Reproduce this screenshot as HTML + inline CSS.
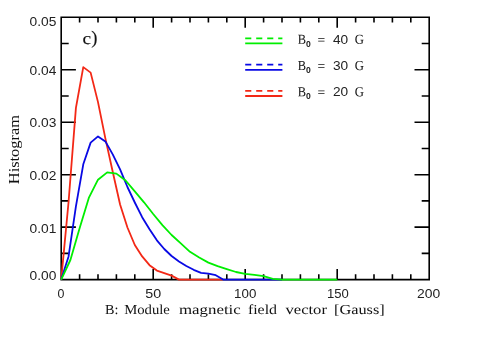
<!DOCTYPE html>
<html><head><meta charset="utf-8"><title>Histogram</title>
<style>html,body{margin:0;padding:0;background:#fff;}svg{display:block;}text{font-family:"Liberation Serif",serif;fill:#111111;}text.s{font-family:"Liberation Sans",sans-serif;fill:#222;}</style></head><body>
<svg width="491" height="350" viewBox="0 0 491 350">
<rect x="0" y="0" width="491" height="350" fill="#ffffff"/>
<path d="M61.20 17.30H429.20V279.60H61.20ZM61.20 279.60v-10.50M61.20 17.30v10.50M79.60 279.60v-5.30M79.60 17.30v5.30M98.00 279.60v-5.30M98.00 17.30v5.30M116.40 279.60v-5.30M116.40 17.30v5.30M134.80 279.60v-5.30M134.80 17.30v5.30M153.20 279.60v-10.50M153.20 17.30v10.50M171.60 279.60v-5.30M171.60 17.30v5.30M190.00 279.60v-5.30M190.00 17.30v5.30M208.40 279.60v-5.30M208.40 17.30v5.30M226.80 279.60v-5.30M226.80 17.30v5.30M245.20 279.60v-10.50M245.20 17.30v10.50M263.60 279.60v-5.30M263.60 17.30v5.30M282.00 279.60v-5.30M282.00 17.30v5.30M300.40 279.60v-5.30M300.40 17.30v5.30M318.80 279.60v-5.30M318.80 17.30v5.30M337.20 279.60v-10.50M337.20 17.30v10.50M355.60 279.60v-5.30M355.60 17.30v5.30M374.00 279.60v-5.30M374.00 17.30v5.30M392.40 279.60v-5.30M392.40 17.30v5.30M410.80 279.60v-5.30M410.80 17.30v5.30M429.20 279.60v-10.50M429.20 17.30v10.50M61.20 279.60h14.70M429.20 279.60h-14.70M61.20 253.37h7.50M429.20 253.37h-7.50M61.20 227.14h14.70M429.20 227.14h-14.70M61.20 200.91h7.50M429.20 200.91h-7.50M61.20 174.68h14.70M429.20 174.68h-14.70M61.20 148.45h7.50M429.20 148.45h-7.50M61.20 122.22h14.70M429.20 122.22h-14.70M61.20 95.99h7.50M429.20 95.99h-7.50M61.20 69.76h14.70M429.20 69.76h-14.70M61.20 43.53h7.50M429.20 43.53h-7.50M61.20 17.30h14.70M429.20 17.30h-14.70" fill="none" stroke="#000" stroke-width="1.6" stroke-linecap="butt" stroke-linejoin="miter"/>
<g fill="none" stroke-width="1.8" stroke-linejoin="round" stroke-linecap="butt">
<polyline stroke="#f32816" points="61.20,279.60 68.56,202.00 75.92,107.90 83.28,67.10 90.64,72.60 98.00,102.10 105.36,138.40 112.72,171.80 120.08,204.50 127.44,227.50 134.80,245.00 142.16,256.40 149.52,265.20 156.88,270.60 164.24,273.10 171.60,275.60 178.96,279.60 222.80,279.60"/>
<polyline stroke="#0909e4" points="61.20,279.60 68.56,256.40 75.92,206.30 83.28,164.30 90.64,142.60 98.00,136.40 105.36,141.40 112.72,154.40 120.08,169.40 127.44,187.00 134.80,202.50 142.16,217.20 149.52,229.30 156.88,240.30 164.24,249.00 171.60,256.00 178.96,261.50 186.32,266.00 193.68,269.80 201.04,272.80 208.40,273.60 215.76,275.20 223.12,279.60 282.00,279.60"/>
<polyline stroke="#00ee00" points="61.20,279.60 70.40,260.00 79.60,228.20 88.80,197.90 98.00,179.70 107.20,172.40 116.40,173.60 125.60,180.50 134.80,191.40 144.00,202.30 153.20,214.00 162.40,225.10 171.60,235.00 180.80,243.40 190.00,251.80 199.20,257.50 208.40,262.60 217.60,266.20 226.80,269.20 236.00,272.00 245.20,273.90 254.40,274.80 263.60,276.10 272.80,278.90 282.00,279.60 337.30,279.60"/>
</g>
<defs><mask id="m" maskUnits="userSpaceOnUse" x="0" y="0" width="491" height="350"><rect x="0" y="0" width="491" height="350" fill="#fff"/></mask></defs>
<g mask="url(#m)">
<text class="s" x="29.50" y="26.30" font-size="12.6" textLength="26.8" lengthAdjust="spacingAndGlyphs">0.05</text>
<text class="s" x="29.50" y="74.80" font-size="12.6" textLength="26.8" lengthAdjust="spacingAndGlyphs">0.04</text>
<text class="s" x="29.50" y="127.40" font-size="12.6" textLength="26.8" lengthAdjust="spacingAndGlyphs">0.03</text>
<text class="s" x="29.50" y="179.90" font-size="12.6" textLength="26.8" lengthAdjust="spacingAndGlyphs">0.02</text>
<text class="s" x="29.50" y="232.50" font-size="12.6" textLength="26.8" lengthAdjust="spacingAndGlyphs">0.01</text>
<text class="s" x="29.50" y="280.20" font-size="12.6" textLength="26.8" lengthAdjust="spacingAndGlyphs">0.00</text>
<text class="s" x="57.45" y="298.30" font-size="12.6" textLength="6.9" lengthAdjust="spacingAndGlyphs">0</text>
<text class="s" x="145.30" y="298.30" font-size="12.6" textLength="15.9" lengthAdjust="spacingAndGlyphs">50</text>
<text class="s" x="234.10" y="298.30" font-size="12.6" textLength="22.2" lengthAdjust="spacingAndGlyphs">100</text>
<text class="s" x="326.90" y="298.30" font-size="12.6" textLength="21.8" lengthAdjust="spacingAndGlyphs">150</text>
<text class="s" x="417.00" y="298.30" font-size="12.6" textLength="23.2" lengthAdjust="spacingAndGlyphs">200</text>
<text transform="translate(105.10 314.00) rotate(0.05)" font-size="13.7" textLength="13.4" lengthAdjust="spacingAndGlyphs">B:</text>
<text transform="translate(124.20 314.00) rotate(0.05)" font-size="13.7" textLength="45.7" lengthAdjust="spacingAndGlyphs">Module</text>
<text transform="translate(179.00 314.00) rotate(0.05)" font-size="13.7" textLength="61.8" lengthAdjust="spacingAndGlyphs">magnetic</text>
<text transform="translate(247.90 314.00) rotate(0.05)" font-size="13.7" textLength="29.1" lengthAdjust="spacingAndGlyphs">field</text>
<text transform="translate(285.50 314.00) rotate(0.05)" font-size="13.7" textLength="41.4" lengthAdjust="spacingAndGlyphs">vector</text>
<text transform="translate(334.00 314.00) rotate(0.05)" font-size="13.7" textLength="50.7" lengthAdjust="spacingAndGlyphs">[Gauss]</text>
<text transform="translate(18.6 184.2) rotate(-90)" font-size="13.7" textLength="69.2" lengthAdjust="spacingAndGlyphs">Histogram</text>
<text transform="translate(82.6 43.9) rotate(0.05)" font-size="17" textLength="8.6" lengthAdjust="spacingAndGlyphs" stroke="#111111" stroke-width="0.15">c</text>
<text transform="translate(91.3 43.7) rotate(0.05)" font-size="18.6" textLength="6.2" lengthAdjust="spacingAndGlyphs" stroke="#111111" stroke-width="0.15">)</text>
<path d="M245.2 38.30H282.4" stroke="#00ee00" stroke-width="1.8" stroke-dasharray="6.1 4.9" fill="none"/>
<path d="M245.2 43.40H282.4" stroke="#00ee00" stroke-width="1.8" fill="none"/>
<text transform="translate(297.80 43.80) rotate(0.05)" font-size="13.7" textLength="8.3" lengthAdjust="spacingAndGlyphs">B</text>
<text class="s" x="305.90" y="46.70" font-size="8.4" textLength="4.8" lengthAdjust="spacingAndGlyphs" font-weight="bold">0</text>
<text transform="translate(317.50 44.30) rotate(0.05)" font-size="13.7" textLength="7.7" lengthAdjust="spacingAndGlyphs">=</text>
<text class="s" x="333.00" y="43.80" font-size="12.6" textLength="15.2" lengthAdjust="spacingAndGlyphs">40</text>
<text transform="translate(354.70 43.80) rotate(0.05)" font-size="13.7" textLength="9.2" lengthAdjust="spacingAndGlyphs">G</text>
<path d="M245.2 64.60H282.4" stroke="#0909e4" stroke-width="1.8" stroke-dasharray="6.1 4.9" fill="none"/>
<path d="M245.2 69.90H282.4" stroke="#0909e4" stroke-width="1.8" fill="none"/>
<text transform="translate(297.80 70.00) rotate(0.05)" font-size="13.7" textLength="8.3" lengthAdjust="spacingAndGlyphs">B</text>
<text class="s" x="305.90" y="72.90" font-size="8.4" textLength="4.8" lengthAdjust="spacingAndGlyphs" font-weight="bold">0</text>
<text transform="translate(317.50 70.50) rotate(0.05)" font-size="13.7" textLength="7.7" lengthAdjust="spacingAndGlyphs">=</text>
<text class="s" x="333.00" y="70.00" font-size="12.6" textLength="15.2" lengthAdjust="spacingAndGlyphs">30</text>
<text transform="translate(354.70 70.00) rotate(0.05)" font-size="13.7" textLength="9.2" lengthAdjust="spacingAndGlyphs">G</text>
<path d="M245.2 90.90H282.4" stroke="#f32816" stroke-width="1.8" stroke-dasharray="6.1 4.9" fill="none"/>
<path d="M245.2 96.00H282.4" stroke="#f32816" stroke-width="1.8" fill="none"/>
<text transform="translate(297.80 96.20) rotate(0.05)" font-size="13.7" textLength="8.3" lengthAdjust="spacingAndGlyphs">B</text>
<text class="s" x="305.90" y="99.10" font-size="8.4" textLength="4.8" lengthAdjust="spacingAndGlyphs" font-weight="bold">0</text>
<text transform="translate(317.50 96.70) rotate(0.05)" font-size="13.7" textLength="7.7" lengthAdjust="spacingAndGlyphs">=</text>
<text class="s" x="333.00" y="96.20" font-size="12.6" textLength="15.2" lengthAdjust="spacingAndGlyphs">20</text>
<text transform="translate(354.70 96.20) rotate(0.05)" font-size="13.7" textLength="9.2" lengthAdjust="spacingAndGlyphs">G</text>
</g>
</svg></body></html>
